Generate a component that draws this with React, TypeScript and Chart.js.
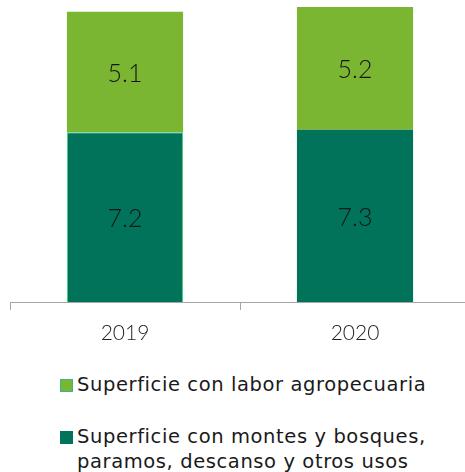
import React, { useEffect, useRef } from "react";
import { Chart, registerables } from "chart.js";

Chart.register(...registerables);

const categories = ["2019", "2020"];
const labelAgro = "Superficie con labor agropecuaria";
const labelMontes = "Superficie con montes y bosques, paramos, descanso y otros usos";
const valuesMontes = [7.2, 7.3];
const valuesAgro = [5.1, 5.2];

const FONT = "'DejaVu Sans', sans-serif";
const NUMFONT = "Lato, 'DejaVu Sans', sans-serif";
const DARK = "#00735A";
const LIGHT = "#7AB632";

const valueLabels = {
  id: "valueLabels",
  afterDatasetsDraw(chart: any) {
    const ctx = chart.ctx;
    ctx.save();
    ctx.font = "300 25px " + NUMFONT;
    ctx.fillStyle = "#141414";
    ctx.textAlign = "center";
    ctx.textBaseline = "middle";
    chart.data.datasets.forEach((ds: any, i: number) => {
      const meta = chart.getDatasetMeta(i);
      meta.data.forEach((el: any, j: number) => {
        const p = el.getCenterPoint();
        ctx.fillText(String(ds.data[j].toFixed(1)), p.x, p.y + 2);
      });
    });
    ctx.restore();
  },
};

export default function App() {
  const ref = useRef<HTMLCanvasElement | null>(null);
  useEffect(() => {
    if (!ref.current) return;
    const chart = new Chart(ref.current, {
      type: "bar",
      data: {
        labels: categories,
        datasets: [
          {
            label: labelMontes,
            data: valuesMontes,
            backgroundColor: DARK,
            borderColor: ["#3fd27a", DARK],
            borderWidth: [1, 0] as any,
            categoryPercentage: 1,
            barPercentage: 0.505,
          },
          {
            label: labelAgro,
            data: valuesAgro,
            backgroundColor: LIGHT,
            borderWidth: 0,
            categoryPercentage: 1,
            barPercentage: 0.505,
          },
        ],
      },
      options: {
        animation: false,
        responsive: false,
        maintainAspectRatio: false,
        layout: { padding: { left: 10, right: 10, top: 0, bottom: 0 } },
        plugins: { legend: { display: false }, tooltip: { enabled: false } },
        scales: {
          x: {
            stacked: true,
            grid: {
              display: true,
              offset: true,
              drawOnChartArea: false,
              drawTicks: true,
              tickLength: 8,
              color: "#a6a6a6",
            },
            border: { display: true, color: "#a6a6a6", width: 1 },
            ticks: {
              color: "#1f1f1f",
              font: { family: NUMFONT, size: 21, weight: "300" as any },
              padding: 11,
            },
            afterFit(s: any) {
              s.height = 43;
            },
          },
          y: {
            stacked: true,
            display: false,
            min: 0,
            max: 12.8,
          },
        },
      },
      plugins: [valueLabels],
    });
    return () => chart.destroy();
  }, []);

  const item = (color: string, border: string, lines: string[], top: number) => (
    <div
      style={{
        position: "absolute",
        left: 60,
        top,
        display: "flex",
        alignItems: "flex-start",
      }}
    >
      <div
        style={{
          width: 11,
          height: 11,
          background: color,
          border: "1px solid " + border,
          marginTop: 7,
          marginRight: 4,
          flex: "none",
        }}
      />
      <div
        style={{
          fontFamily: FONT,
          fontSize: 19.5,
          letterSpacing: "0.6px",
          lineHeight: "25px",
          color: "#1a1a1a",
        }}
      >
        {lines.map((l, i) => (
          <div key={i} style={{ whiteSpace: "nowrap" }}>{l}</div>
        ))}
      </div>
    </div>
  );

  return (
    <div
      style={{
        position: "fixed",
        left: 0,
        top: 0,
        width: 465,
        height: 472,
        overflow: "hidden",
        background: "#fff",
      }}
    >
      <canvas ref={ref} width={480} height={345} style={{ display: "block", width: 480, height: 345 }} />
      {item(LIGHT, "#3bb39a", [labelAgro], 372)}
      {item(DARK, DARK, ["Superficie con montes y bosques,", "paramos, descanso y otros usos"], 424)}
    </div>
  );
}
